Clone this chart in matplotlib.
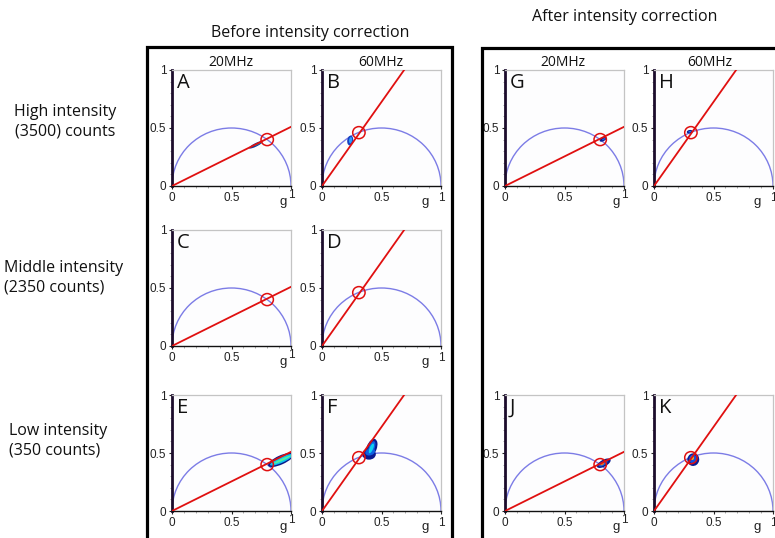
import numpy as np
import matplotlib
matplotlib.use('Agg')
import matplotlib.pyplot as plt
from matplotlib.patches import Arc, Circle, Ellipse, Rectangle

W, H = 775, 538

# panel layout (pixels in the original picture)
col_x = [172, 322, 505, 654]
row_top = [70, 230, 395]
pw, ph = 119, 116

panel_letters = ['A', 'B', 'C', 'D', 'E', 'F', 'G', 'H', 'J', 'K']
panel_cells = [(0, 0), (0, 1), (1, 0), (1, 1), (2, 0), (2, 1),
               (0, 2), (0, 3), (2, 2), (2, 3)]
panel_freq = ['20', '60', '20', '60', '20', '60', '20', '60', '20', '60']

# phasor reference: red line end point and marker per frequency
line_end = {'20': (1.0, 0.51), '60': (0.69, 1.0)}
marker_pos = {'20': (0.80, 0.40), '60': (0.31, 0.46)}
marker_r = 0.052

# measured distributions: (x, y, width, height, angle, colour) layers
blobs = {
    'A': [(0.705, 0.355, 0.13, 0.030, 27, '#103a9a'),
          (0.720, 0.362, 0.07, 0.013, 27, '#2a8aa0')],
    'B': [(0.237, 0.392, 0.085, 0.050, 82, '#1840c0'),
          (0.240, 0.395, 0.055, 0.025, 82, '#2aa0ff')],
    'C': [],
    'D': [],
    'E': [(0.915, 0.440, 0.235, 0.078, 25, '#0a1a8a'),
          (0.920, 0.441, 0.210, 0.050, 25, '#10c0f0'),
          (0.925, 0.442, 0.170, 0.020, 25, '#50f0a0')],
    'F': [(0.395, 0.490, 0.115, 0.095, 0, '#0a1a90'),
          (0.418, 0.545, 0.160, 0.085, 70, '#0a1a90'),
          (0.405, 0.510, 0.085, 0.060, 20, '#1060e0'),
          (0.418, 0.545, 0.120, 0.050, 70, '#1060e0'),
          (0.415, 0.540, 0.090, 0.030, 68, '#10d0f0')],
    'G': [(0.825, 0.402, 0.065, 0.030, 27, '#0a1a90'),
          (0.830, 0.404, 0.032, 0.013, 27, '#2060e0')],
    'H': [(0.300, 0.468, 0.050, 0.030, 10, '#0a1a90'),
          (0.300, 0.468, 0.024, 0.013, 10, '#2070f0')],
    'J': [(0.830, 0.412, 0.130, 0.058, 30, '#0a1a90'),
          (0.825, 0.409, 0.085, 0.034, 30, '#1060e0'),
          (0.818, 0.405, 0.038, 0.017, 30, '#f07020')],
    'K': [(0.330, 0.443, 0.110, 0.100, 80, '#0a1a90'),
          (0.327, 0.449, 0.075, 0.064, 80, '#1050e0'),
          (0.322, 0.456, 0.034, 0.028, 80, '#f0b020')],
}

x_ticks = [0, 0.5, 1]
x_ticklabels = ['0', '0.5', '1']
y_ticks = [0, 0.5, 1]
y_ticklabels = ['0', '0.5', '1']

titles = [('Before intensity correction', 310, 33),
          ('After intensity correction', 625, 17)]
freq_labels = [('20MHz', 231, 62), ('60MHz', 381, 62),
               ('20MHz', 563, 63), ('60MHz', 710, 63)]
row_labels = [('High intensity\n(3500) counts', 65, 122, 'center'),
              ('Middle intensity\n(2350 counts)', 4, 278, 'left'),
              ('Low intensity\n(350 counts)', 9, 441, 'left')]

txt_font = ['Open Sans', 'DejaVu Sans']
num_font = ['Liberation Sans', 'DejaVu Sans']

fig = plt.figure(figsize=(W / 100, H / 100), dpi=100)
fig.patch.set_facecolor('white')


def px_ax(x, top):
    return [x / W, 1 - (top + ph) / H, pw / W, ph / H]


for letter, (r, c), f in zip(panel_letters, panel_cells, panel_freq):
    ax = fig.add_axes(px_ax(col_x[c], row_top[r]))
    ax.set_facecolor('#fdfdfe')
    ax.set_xlim(0, 1)
    ax.set_ylim(0, 1)

    ax.add_patch(Arc((0.5, 0), 1.0, 1.0, theta1=0, theta2=180,
                     color='#7c7ce6', lw=1.0, zorder=2))
    for (bx, by, bw, bh, ang, col) in blobs[letter]:
        ax.add_patch(Ellipse((bx, by), bw, bh, angle=ang, facecolor=col,
                             edgecolor='none', zorder=3))
    ex, ey = line_end[f]
    ax.plot([0, ex], [0, ey], color='#e01010', lw=1.3, zorder=4)
    mx, my = marker_pos[f]
    ax.add_patch(Circle((mx, my), marker_r, facecolor='none',
                        edgecolor='#e01010', lw=1.1, zorder=5))

    ax.text(0.04, 0.975, letter, transform=ax.transAxes, ha='left', va='top',
            fontsize=14.5, family=txt_font, color='#111111')

    ax.set_xticks(x_ticks)
    ax.set_yticks(y_ticks)
    ax.set_yticklabels(y_ticklabels, family=num_font, fontsize=8.5)
    ax.set_xticks(np.arange(0.1, 1.0, 0.1), minor=True)
    ax.set_yticks(np.arange(0.1, 1.0, 0.1), minor=True)
    ax.tick_params(which='major', length=2.5, width=0.8, pad=1.5,
                   colors='#222222')
    ax.tick_params(which='minor', length=1.5, width=0.5, color='#888888')

    if f == '20':
        # the "1" sits raised next to the g label in these panels
        ax.set_xticklabels(x_ticklabels[:-1] + [''], family=num_font,
                           fontsize=8.5)
        ax.text(1.0, -0.03, x_ticklabels[-1], transform=ax.transAxes,
                ha='center', va='top', fontsize=8.5, family=num_font,
                color='#222222')
        gx = 0.935
    else:
        ax.set_xticklabels(x_ticklabels, family=num_font, fontsize=8.5)
        gx = 0.87
    ax.text(gx, -0.085, 'g', transform=ax.transAxes, ha='center', va='top',
            fontsize=9.5, family=num_font, color='#222222')

    for s in ['top', 'right']:
        ax.spines[s].set_color('#c4c4c4')
        ax.spines[s].set_linewidth(0.9)
    ax.spines['left'].set_color('#1c0c2c')
    ax.spines['left'].set_linewidth(2.0)
    ax.spines['bottom'].set_color('#111111')
    ax.spines['bottom'].set_linewidth(1.0)

# framed groups
fig.patches.append(Rectangle((147 / W, -0.05), (452 - 147) / W,
                             1.05 - 47 / H, transform=fig.transFigure,
                             fill=False, edgecolor='black', lw=2.3))
fig.patches.append(Rectangle((482 / W, -0.05), 0.5, 1.05 - 48 / H,
                             transform=fig.transFigure,
                             fill=False, edgecolor='black', lw=2.3))

for t, x, y in titles:
    fig.text(x / W, 1 - y / H, t, ha='center', va='center', fontsize=11.5,
             family=txt_font, color='#111111')
for t, x, y in freq_labels:
    fig.text(x / W, 1 - y / H, t, ha='center', va='center', fontsize=10,
             family=txt_font, color='#111111')
for t, x, y, ha in row_labels:
    fig.text(x / W, 1 - y / H, t, ha=ha, va='center', fontsize=11.5,
             family=txt_font, color='#111111', linespacing=1.3,
             multialignment=ha)

fig.savefig('out.png', dpi=100)
